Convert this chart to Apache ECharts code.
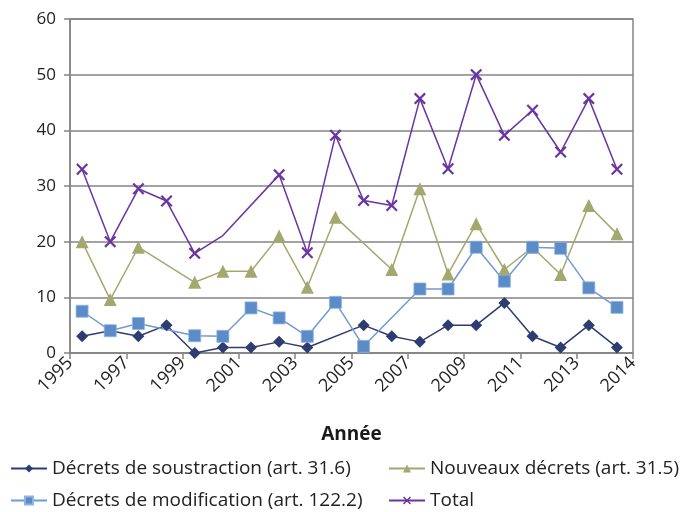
<!DOCTYPE html>
<html>
<head>
<meta charset="utf-8">
<script src="https://cdn.jsdelivr.net/npm/echarts@6/dist/echarts.min.js"></script>
<style>
html,body{margin:0;padding:0;background:#fff;}
#chart{width:683px;height:512px;}
</style>
</head>
<body>
<div id="chart"></div>
<script>
const years = [1995,1996,1997,1998,1999,2000,2001,2002,2003,2004,2005,2006,2007,2008,2009,2010,2011,2012,2013,2014];
const soustraction = [3,4,3,5,0,1,1,2,1,null,5,3,2,5,5,9,3,1,5,1];
const nouveaux = [20,9.6,19,null,12.7,14.7,14.7,21,11.8,24.4,null,15,29.5,14.2,23.2,15,19,14.1,26.5,21.4];
const modification = [7.5,4,5.3,null,3.1,3,8.1,6.3,3,9.1,1.2,null,11.5,11.5,19,12.9,19,18.8,11.7,8.2];
const total = [33,20,29.5,27.3,17.9,21.1,null,32,18,39.1,27.4,26.5,45.7,33.1,50,39.1,43.6,36.1,45.7,33];
const totalNoMarkerYears = [2000];
const xTickLabels = ['1995','1997','1999','2001','2003','2005','2007','2009','2011','2013','2014'];
const yTicks = [0,10,20,30,40,50,60];
const seriesNames = ['Décrets de soustraction (art. 31.6)','Nouveaux décrets (art. 31.5)','Décrets de modification (art. 122.2)','Total'];

const midYear = 0.43;
function pts(arr, noMarker){
  const out = [];
  arr.forEach((v,i)=>{
    if(v===null) return;
    const p = {value:[years[i]+midYear, v]};
    if(noMarker && noMarker.indexOf(years[i])>=0) p.symbol='none';
    out.push(p);
  });
  return out;
}
const xPath = 'path://M0,1.3L1.3,0L5,3.7L8.7,0L10,1.3L6.3,5L10,8.7L8.7,10L5,6.3L1.3,10L0,8.7L3.7,5Z';
const FONT = 'Open Sans';
const legendText = {fontFamily:FONT,fontSize:19,color:'#222'};
function lg(name,left,top){
  return {left:left,top:top,orient:'horizontal',itemWidth:36,itemHeight:10,itemGap:0,
    data:[name],textStyle:legendText,padding:0};
}
const chart = echarts.init(document.getElementById('chart'), null, {renderer:'canvas'});
chart.setOption({
  animation:false,
  textStyle:{fontFamily:FONT},
  grid:{left:70,right:50,top:19,bottom:159,show:true,borderColor:'#858585',borderWidth:1.5},
  xAxis:{
    type:'value', min:1995, max:2015, interval:2,
    name:'Année', nameLocation:'middle', nameGap:72,
    nameTextStyle:{fontFamily:FONT,fontSize:19,fontWeight:'bold',color:'#1a1a1a'},
    axisLine:{show:true,onZero:false,lineStyle:{color:'#858585',width:1.5}},
    axisTick:{show:true,length:6,lineStyle:{color:'#858585',width:1.5}},
    splitLine:{show:false},
    axisLabel:{rotate:45,fontFamily:FONT,fontSize:18,color:'#222',margin:7,
      formatter:function(v){const i=Math.round((v-1995)/2);return xTickLabels[i]||'';}}
  },
  yAxis:{
    type:'value', min:yTicks[0], max:yTicks[yTicks.length-1], interval:10,
    axisLine:{show:true,lineStyle:{color:'#858585',width:1.5}},
    axisTick:{show:true,length:6,lineStyle:{color:'#858585',width:1.5}},
    splitLine:{show:true,lineStyle:{color:'#858585',width:1.5}},
    axisLabel:{fontFamily:FONT,fontSize:17,color:'#222',margin:14}
  },
  legend:[
    lg(seriesNames[0],10,459),
    lg(seriesNames[1],388,459),
    lg(seriesNames[2],10,491),
    lg(seriesNames[3],388,491)
  ],
  series:[
    {name:seriesNames[0],type:'line',data:pts(soustraction),connectNulls:true,
     symbol:'diamond',symbolSize:12,
     lineStyle:{color:'#2f3c72',width:1.5},itemStyle:{color:'#2f3c72'}},
    {name:seriesNames[1],type:'line',data:pts(nouveaux),connectNulls:true,
     symbol:'triangle',symbolSize:13,
     lineStyle:{color:'#a3a86e',width:1.5},itemStyle:{color:'#a3a86e'}},
    {name:seriesNames[2],type:'line',data:pts(modification),connectNulls:true,
     symbol:'rect',symbolSize:12,
     lineStyle:{color:'#6e9bd4',width:1.5},itemStyle:{color:'#5b8cc8',borderColor:'#8fb3e0',borderWidth:0.8}},
    {name:seriesNames[3],type:'line',data:pts(total,totalNoMarkerYears),connectNulls:true,
     symbol:xPath,symbolSize:12,
     lineStyle:{color:'#6a35a0',width:1.5},itemStyle:{color:'#6a35a0'}}
  ]
});
</script>
</body>
</html>
